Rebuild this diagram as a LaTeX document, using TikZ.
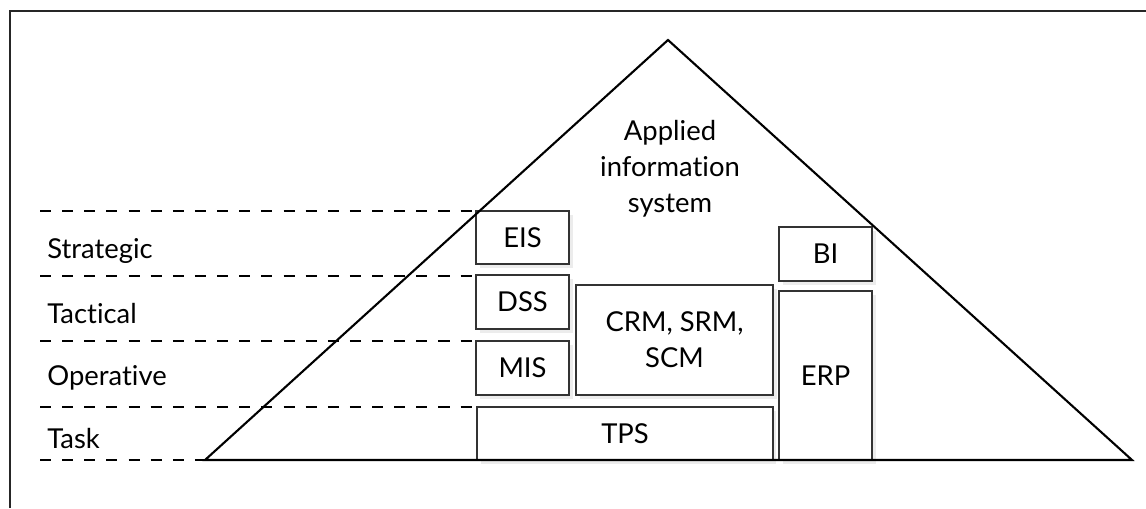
\documentclass[tikz,border=0pt]{standalone}
\usepackage{fontspec}
\setmainfont{Lato}[Ligatures=NoCommon]
\usetikzlibrary{shadows}

\begin{document}
\begin{tikzpicture}[x=0.02cm, y=0.02cm]
\tikzstyle{every node}+=[inner sep=0pt, font=\fontsize{15.6}{20.4}\selectfont]
\tikzstyle{sysbox}=[draw=black!80, fill=white, line width=0.7pt, align=center, drop shadow={shadow xshift=2pt, shadow yshift=-2pt, opacity=0.15}]
\tikzstyle{layerline}=[black, dash pattern=on 6.3pt off 6.3pt, line width=1.4pt]
\useasboundingbox (0,0) rectangle (1146,-508);
\draw [black!85, line width=1.2pt] (10,-508) -- (10,-11) -- (1146,-11);
\draw [layerline] (40,-211) -- (475,-211);
\draw [layerline] (40,-276) -- (475,-276);
\draw [layerline] (40,-341) -- (475,-341);
\draw [layerline] (40,-407) -- (475,-407);
\draw [layerline] (40,-460) -- (205,-460);
\node [anchor=base west] (strategic) at (47,-258) {Strategic};
\node [anchor=base west] (tactical) at (47,-323) {Tactical};
\node [anchor=base west] (operative) at (47,-385) {Operative};
\node [anchor=base west] (task) at (47,-448) {Task};
\node [sysbox, minimum width=1.86cm, minimum height=1.06cm] (eis) at (522.5,-237.5) {EIS};
\node [sysbox, minimum width=1.86cm, minimum height=1.08cm] (dss) at (522.5,-302) {DSS};
\node [sysbox, minimum width=1.86cm, minimum height=1.08cm] (mis) at (522.5,-368) {MIS};
\node [sysbox, minimum width=3.94cm, minimum height=2.2cm] (crm) at (674.5,-340) {CRM, SRM,\\SCM};
\node [sysbox, minimum width=5.92cm, minimum height=1.06cm] (tps) at (625,-433.5) {TPS};
\node [sysbox, minimum width=1.86cm, minimum height=1.08cm] (bi) at (825.5,-254) {BI};
\node [sysbox, minimum width=1.86cm, minimum height=3.38cm] (erp) at (825.5,-375.5) {ERP};
\draw [black, line width=1.2pt] (205,-460) -- (668,-40) -- (1132,-460) -- cycle;
\node [align=center] (ais) at (670,-169) {Applied\\information\\system};
\end{tikzpicture}
\end{document}
